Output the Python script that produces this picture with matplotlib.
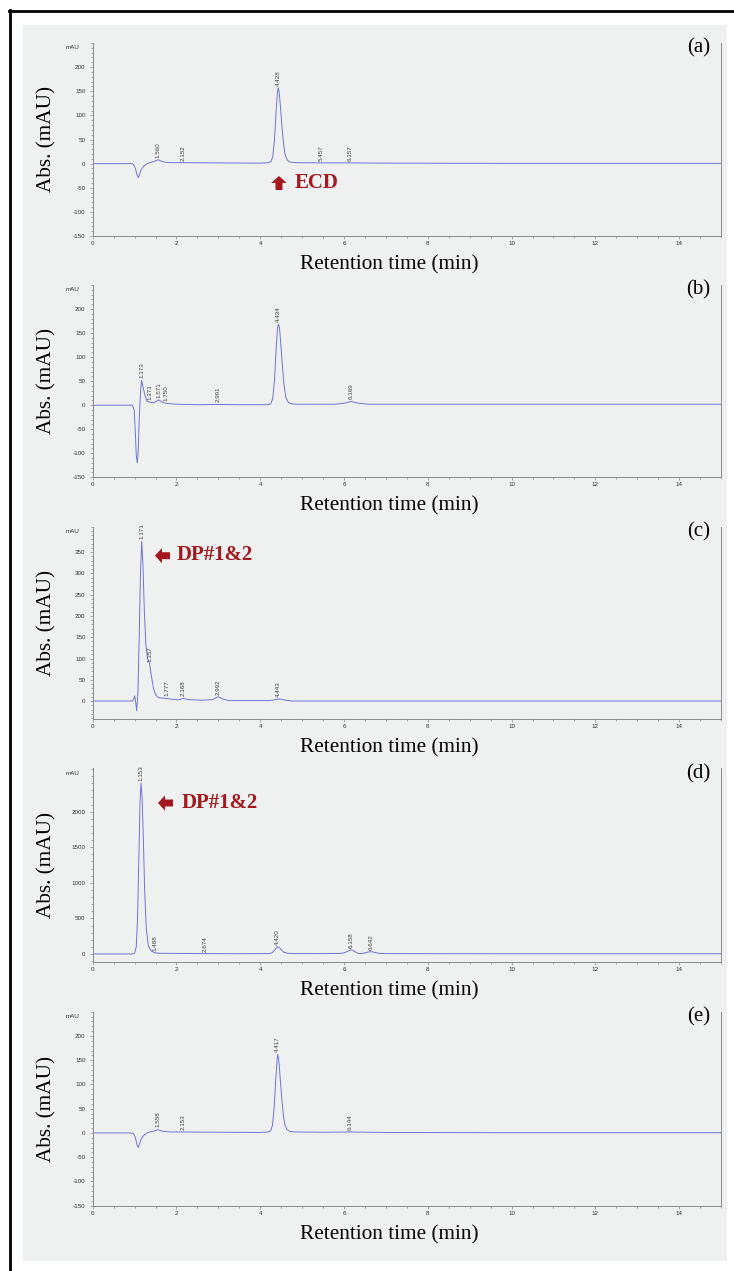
import numpy as np
import matplotlib.pyplot as plt
from matplotlib.patches import Rectangle
from matplotlib.lines import Line2D
from matplotlib.ticker import MultipleLocator

plt.rcParams['axes.unicode_minus'] = False

# chromatogram (a): ECD standard
ta = [0, 0.9, 0.97, 1.02, 1.06, 1.09, 1.12, 1.16, 1.22, 1.30, 1.40, 1.48, 1.56, 1.64, 1.72, 1.85, 2.15, 3.0,
      4.0, 4.20, 4.26, 4.30, 4.34, 4.38, 4.41, 4.428, 4.45, 4.48, 4.52, 4.56, 4.60, 4.65, 4.72, 4.85,
      5.46, 6.16, 7.0, 10.0, 12.0, 15.0]
ya = [0, 0, -1, -10, -24, -29, -22, -12, -5, 0, 3, 5, 8, 5, 3, 2, 2, 1.5,
      1, 2, 5, 15, 50, 110, 148, 157, 150, 120, 75, 38, 16, 7, 3, 2,
      1.5, 1.5, 1, 0.5, 0.5, 0.5]
lab_a = ['1.560', '2.152', '4.428', '5.457', '6.157']
lab_a_t = [1.560, 2.152, 4.428, 5.457, 6.157]
lab_a_y = [8, 2, 157, 2, 2]

# chromatogram (b)
tb = [0, 0.95, 0.99, 1.02, 1.04, 1.065, 1.09, 1.11, 1.14, 1.165, 1.20, 1.25, 1.30, 1.37, 1.45, 1.52, 1.571,
      1.63, 1.70, 1.75, 1.85, 2.0, 2.5, 2.99, 3.5, 4.0, 4.20, 4.26, 4.30, 4.34, 4.38, 4.41, 4.434, 4.46,
      4.49, 4.53, 4.57, 4.61, 4.66, 4.73, 4.86, 5.5, 5.8, 6.0, 6.10, 6.169, 6.25, 6.35, 6.6, 7.0, 10.0, 15.0]
yb = [0, 0, -10, -60, -105, -120, -90, -30, 25, 52, 38, 20, 8, 6, 5, 8, 11,
      8, 5, 4, 3, 2, 1, 1.5, 1, 1, 1, 4, 15, 52, 118, 158, 169, 160,
      128, 80, 40, 17, 7, 3, 2, 2, 2, 4, 6, 8, 6, 4, 2, 2, 2, 2]
lab_b = ['1.173', '1.371', '1.571', '1.750', '2.991', '4.434', '6.169']
lab_b_t = [1.173, 1.371, 1.571, 1.750, 2.991, 4.434, 6.169]
lab_b_y = [52, 7, 11, 5, 1.5, 169, 8]

# chromatogram (c): DP#1&2
tc = [0, 0.95, 0.98, 1.0, 1.02, 1.05, 1.08, 1.11, 1.14, 1.171, 1.20, 1.23, 1.27, 1.31, 1.357, 1.40, 1.45,
      1.50, 1.57, 1.65, 1.777, 1.90, 2.05, 2.168, 2.30, 2.6, 2.85, 2.992, 3.1, 3.25, 4.2, 4.3, 4.443,
      4.6, 4.75, 6.0, 10.0, 15.0]
yc = [0, 0, 5, 12, 2, -23, 20, 150, 300, 375, 320, 220, 130, 100, 88, 60, 30,
      15, 8, 7, 6, 4, 3, 6, 3, 2, 3, 10, 5, 1, 1, 2, 5,
      2, 0, 0, 0, 0]
lab_c = ['1.171', '1.357', '1.777', '2.168', '2.992', '4.443']
lab_c_t = [1.171, 1.357, 1.777, 2.168, 2.992, 4.443]
lab_c_y = [375, 88, 6, 6, 10, 5]

# chromatogram (d): DP#1&2
td = [0, 0.95, 1.0, 1.04, 1.07, 1.10, 1.13, 1.153, 1.18, 1.21, 1.24, 1.28, 1.33, 1.40, 1.49, 1.6, 2.0,
      2.674, 3.5, 4.2, 4.28, 4.35, 4.42, 4.49, 4.56, 4.65, 4.8, 5.5, 5.9, 6.0, 6.08, 6.158, 6.24, 6.32,
      6.40, 6.50, 6.58, 6.642, 6.72, 6.82, 7.0, 10.0, 15.0]
yd = [0, 0, 10, 100, 500, 1300, 2150, 2400, 2200, 1600, 900, 350, 110, 40, 15, 10, 8,
      5, 4, 5, 15, 60, 103, 70, 25, 10, 6, 5, 8, 15, 35, 60, 40, 12,
      5, 15, 28, 32, 25, 10, 5, 3, 3]
lab_d = ['1.153', '1.488', '2.674', '4.420', '6.158', '6.642']
lab_d_t = [1.153, 1.488, 2.674, 4.420, 6.158, 6.642]
lab_d_y = [2400, 10, 5, 103, 60, 32]

# chromatogram (e)
te = [0, 0.9, 0.97, 1.02, 1.06, 1.09, 1.12, 1.16, 1.22, 1.30, 1.40, 1.48, 1.558, 1.64, 1.72, 1.85, 2.15,
      3.0, 4.0, 4.20, 4.25, 4.29, 4.33, 4.37, 4.40, 4.417, 4.44, 4.47, 4.51, 4.55, 4.59, 4.64, 4.71,
      4.85, 5.5, 6.144, 7.0, 10.0, 15.0]
ye = [0, 0, -1, -10, -25, -30, -22, -12, -5, 0, 3, 4, 7, 4, 3, 2, 2,
      1.5, 1, 2, 5, 15, 50, 110, 148, 162, 152, 120, 75, 38, 16, 7, 3,
      2, 1.5, 2, 1, 0.5, 0.5]
lab_e = ['1.558', '2.153', '4.417', '6.144']
lab_e_t = [1.558, 2.153, 4.417, 6.144]
lab_e_y = [7, 2, 162, 2]

panels = ['(a)', '(b)', '(c)', '(d)', '(e)']
curves = [(ta, ya), (tb, yb), (tc, yc), (td, yd), (te, ye)]
labels = [(lab_a, lab_a_t, lab_a_y), (lab_b, lab_b_t, lab_b_y), (lab_c, lab_c_t, lab_c_y),
          (lab_d, lab_d_t, lab_d_y), (lab_e, lab_e_t, lab_e_y)]
y_ticks = [np.arange(-150, 201, 50), np.arange(-150, 201, 50), np.arange(0, 351, 50),
           np.arange(0, 2001, 500), np.arange(-150, 201, 50)]
y_minor = [10, 10, 10, 100, 10]
y_lims = [(-150, 250), (-150, 250), (-43, 410), (-117, 2610), (-150, 250)]

# layout in pixels
W, H = 734, 1271
ax_left, ax_right = 92.7, 721.0
ax_tops = [43, 285, 526.7, 768.3, 1011.7]
ax_bottoms = [236, 477.3, 719.3, 962.3, 1205.7]

line_col = '#7272d4'
spine_col = '#8a8a8a'
red = '#a3191f'
serif = 'Liberation Serif'
sans = 'Liberation Sans'

fig = plt.figure(figsize=(W / 100, H / 100), dpi=100)
fig.patch.set_facecolor('white')

# grey panel and black frame
fig.add_artist(Rectangle((23 / W, 1 - 1261 / H), (727 - 23) / W, (1261 - 25) / H,
                         transform=fig.transFigure, facecolor='#eff1f1', edgecolor='none', zorder=-10))
fig.add_artist(Line2D([9 / W, 1], [1 - 10.7 / H] * 2, transform=fig.transFigure, color='black', lw=2))
fig.add_artist(Line2D([9.7 / W] * 2, [0, 1 - 10 / H], transform=fig.transFigure, color='black', lw=2))

for i in range(5):
    ax = fig.add_axes([ax_left / W, 1 - ax_bottoms[i] / H, (ax_right - ax_left) / W,
                       (ax_bottoms[i] - ax_tops[i]) / H])
    ax.set_facecolor('none')
    t, y = curves[i]
    ax.plot(t, y, color=line_col, lw=0.7)
    ax.set_xlim(0, 15)
    ax.set_ylim(*y_lims[i])
    ax.set_xticks(np.arange(0, 15, 2))
    ax.xaxis.set_minor_locator(MultipleLocator(0.5))
    ax.set_yticks(y_ticks[i])
    ax.yaxis.set_minor_locator(MultipleLocator(y_minor[i]))
    ax.spines['top'].set_visible(False)
    for s in ['left', 'bottom', 'right']:
        ax.spines[s].set_color(spine_col)
        ax.spines[s].set_linewidth(0.7)
    ax.tick_params(which='major', direction='out', length=2.2, width=0.5, color=spine_col,
                   labelsize=4.5, labelcolor='#333333')
    ax.tick_params(which='minor', direction='out', length=1.5, width=0.5, color=spine_col)
    ax.tick_params(axis='x', pad=1.5)
    ax.tick_params(axis='y', pad=3)
    for lbl in ax.get_xticklabels() + ax.get_yticklabels():
        lbl.set_family(sans)

    # peak retention time labels
    names, pt, py = labels[i]
    for n, xx, yy in zip(names, pt, py):
        ax.annotate(n, xy=(xx, yy), xytext=(0, 1.5), textcoords='offset points', rotation=90,
                    ha='center', va='bottom', fontsize=4.5, color='#444444', family=sans,
                    annotation_clip=False)

    ax.annotate('mAU', xy=(0, 1), xycoords='axes fraction', xytext=(-9.5, -3.4),
                textcoords='offset points', ha='right', va='center', fontsize=4.5,
                color='#333333', family=sans)
    ax.annotate(panels[i], xy=(1, 1), xycoords='axes fraction', xytext=(-7.5, -3.8),
                textcoords='offset points', ha='right', va='center', fontsize=15, family=serif)
    ax.annotate('Retention time (min)', xy=((389 - ax_left) / (ax_right - ax_left), 0),
                xycoords='axes fraction', xytext=(0, -20.9), textcoords='offset points',
                ha='center', va='center', fontsize=15.3, family=serif)
    ax.annotate('Abs. (mAU)', xy=(0, 0.5), xycoords='axes fraction', xytext=(-33.1, 0),
                textcoords='offset points', ha='center', va='center', rotation=90,
                fontsize=15.3, family=serif)

# red markers
arrow_kw = dict(arrowstyle='simple,head_length=0.5,head_width=1.1,tail_width=0.5',
                color=red, lw=0, shrinkA=0, shrinkB=0, mutation_scale=10)
fig.axes[0].annotate('', xy=(279, H - 176), xycoords='figure pixels',
                     xytext=(279, H - 190), textcoords='figure pixels', arrowprops=arrow_kw)
fig.text(295 / W, 1 - 183 / H, 'ECD', fontsize=15, fontweight='bold', color=red,
         family=serif, ha='left', va='center')
fig.axes[2].annotate('', xy=(155, H - 555.7), xycoords='figure pixels',
                     xytext=(170, H - 555.7), textcoords='figure pixels', arrowprops=arrow_kw)
fig.text(177 / W, 1 - 555.5 / H, 'DP#1&2', fontsize=15, fontweight='bold', color=red,
         family=serif, ha='left', va='center')
fig.axes[3].annotate('', xy=(158, H - 803), xycoords='figure pixels',
                     xytext=(173, H - 803), textcoords='figure pixels', arrowprops=arrow_kw)
fig.text(182 / W, 1 - 802.5 / H, 'DP#1&2', fontsize=15, fontweight='bold', color=red,
         family=serif, ha='left', va='center')

plt.savefig('out.png', dpi=100)
